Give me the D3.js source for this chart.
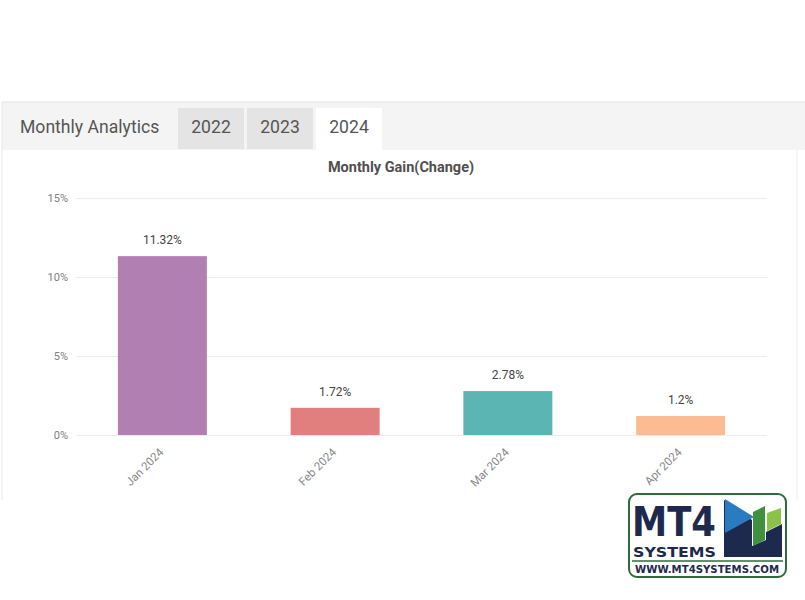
<!DOCTYPE html>
<html><head><meta charset="utf-8">
<script src="https://cdn.jsdelivr.net/npm/d3@7"></script>
<style>body{margin:0;background:#fff;} svg{display:block;}</style>
</head><body><svg id="c" width="805" height="600"></svg>
<script>
const categories = ["Jan 2024", "Feb 2024", "Mar 2024", "Apr 2024"];
const gains = [11.32, 1.72, 2.78, 1.2];
const valueLabels = ["11.32%", "1.72%", "2.78%", "1.2%"];
const barColors = ["#b17fb2", "#e17f7f", "#5bb5b3", "#fdbb91"];
const yTicks = [0, 5, 10, 15];
const tabs = ["2022", "2023", "2024"];

const svg = d3.select("#c");
const font = "Roboto, 'Noto Sans', sans-serif";

// panel
svg.append("rect").attr("x",2).attr("y",102).attr("width",803).attr("height",48).attr("fill","#f4f4f4");
svg.append("line").attr("x1",2).attr("x2",805).attr("y1",102).attr("y2",102).attr("stroke","#e2e2e2");
svg.append("line").attr("x1",2).attr("x2",2).attr("y1",102).attr("y2",500).attr("stroke","#e6e6e6");
svg.append("line").attr("x1",797).attr("x2",797).attr("y1",150).attr("y2",500).attr("stroke","#eeeeee");
svg.append("text").attr("x",20).attr("y",133).attr("font-family",font).attr("font-size",17.6).attr("fill","#555").text("Monthly Analytics");
const tabX = [178, 247, 316];
tabs.forEach((t,i)=>{
  svg.append("rect").attr("x",tabX[i]).attr("y",108).attr("width",66).attr("height",i===2?42:41)
    .attr("fill", i===2 ? "#ffffff" : "#e4e4e4");
  svg.append("text").attr("x",tabX[i]+33).attr("y",133).attr("text-anchor","middle")
    .attr("font-family",font).attr("font-size",17.6).attr("fill","#555").text(t);
});

// chart
const x = d3.scaleBand().domain(categories).range([76, 767]).paddingInner(0.485).paddingOuter(0.2425);
const y = d3.scaleLinear().domain([0, 15]).range([435, 198]);

svg.append("text").attr("x",401).attr("y",172).attr("text-anchor","middle").attr("font-family",font)
  .attr("font-size",14.5).attr("font-weight","bold").attr("fill","#505050").text("Monthly Gain(Change)");

const yAxis = svg.append("g").attr("transform","translate(76,0)")
  .call(d3.axisLeft(y).tickValues(yTicks).tickFormat(d=>d+"%").tickSize(-691).tickPadding(8));
yAxis.select(".domain").remove();
yAxis.selectAll("line").attr("stroke","#ececec");
yAxis.selectAll("text").attr("font-family",font).attr("font-size",11).attr("fill","#808080").attr("dy","0.32em");

svg.append("g").selectAll("rect").data(categories).join("rect")
  .attr("x", d=>x(d)).attr("width", x.bandwidth())
  .attr("y", (d,i)=>y(gains[i])).attr("height",(d,i)=>y(0)-y(gains[i]))
  .attr("fill",(d,i)=>barColors[i]);

svg.append("g").selectAll("text").data(categories).join("text")
  .attr("x", d=>x(d)+x.bandwidth()/2).attr("y",(d,i)=>y(gains[i])-12)
  .attr("text-anchor","middle").attr("font-family",font).attr("font-size",12).attr("fill","#444")
  .text((d,i)=>valueLabels[i]);

const xAxis = svg.append("g").attr("transform","translate(0,435)")
  .call(d3.axisBottom(x).tickSize(0).tickPadding(0));
xAxis.select(".domain").remove();
xAxis.selectAll("text").attr("font-family",font).attr("font-size",11.5).attr("fill","#888")
  .attr("text-anchor","end").attr("transform","translate(-1,15) rotate(-45)").attr("dy","0.35em");

// logo
const lg = svg.append("g");
lg.append("rect").attr("x",629).attr("y",494).attr("width",157).attr("height",83).attr("rx",8)
  .attr("fill","#fff").attr("stroke","#2f6b3a").attr("stroke-width",2);
lg.append("text").attr("x",632).attr("y",536).attr("font-family","'DejaVu Sans', sans-serif").attr("font-weight","bold")
  .attr("font-size",40).attr("fill","#1d2a4d").attr("textLength",84).attr("lengthAdjust","spacingAndGlyphs").text("MT4");
lg.append("text").attr("x",633).attr("y",557).attr("font-family","'DejaVu Sans', sans-serif").attr("font-weight","bold")
  .attr("font-size",14).attr("fill","#1d2a4d").attr("textLength",83).attr("lengthAdjust","spacingAndGlyphs").text("SYSTEMS");
lg.append("line").attr("x1",632).attr("x2",783).attr("y1",561).attr("y2",561).attr("stroke","#2f6b3a").attr("stroke-width",1.5);
lg.append("text").attr("x",707).attr("y",573).attr("text-anchor","middle").attr("font-family","'DejaVu Sans', sans-serif")
  .attr("font-weight","bold").attr("font-size",10).attr("fill","#1d2a4d").attr("textLength",144)
  .attr("lengthAdjust","spacingAndGlyphs").text("WWW.MT4SYSTEMS.COM");
// icon
lg.append("path").attr("d","M724,500 L724,557 L782,557 L782,524 L766,532 L766,540 L752,546 L752,520 Z").attr("fill","#1d2a4d");
lg.append("path").attr("d","M725,499 L754,517 L725,533 Z").attr("fill","#2a7bc0");
lg.append("path").attr("d","M753,512 L765,506 L765,540 L753,546 Z").attr("fill","#3f9140");
lg.append("path").attr("d","M767,513 L781,508 L781,524 L767,531 Z").attr("fill","#8bc34a");
</script></body></html>
